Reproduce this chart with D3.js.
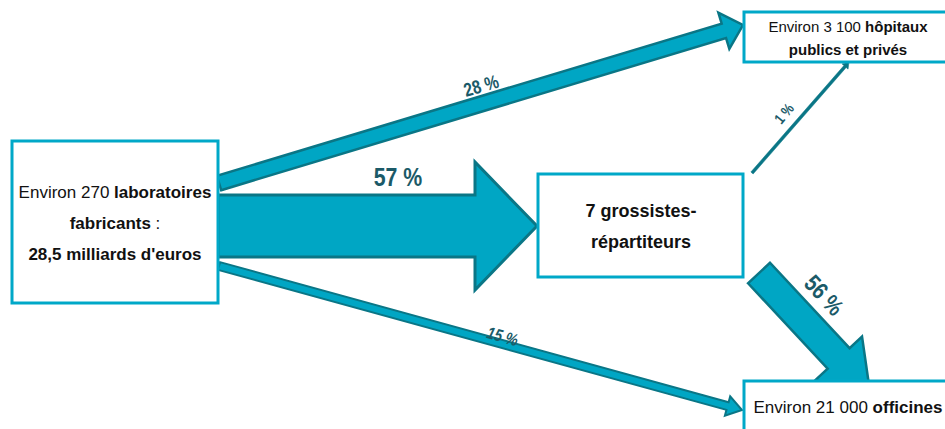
<!DOCTYPE html>
<html>
<head>
<meta charset="utf-8">
<script src="https://cdn.jsdelivr.net/npm/d3@7"></script>
<style>
  body { margin: 0; background: #fff; }
  svg { display: block; font-family: "Liberation Sans", Arial, sans-serif; }
</style>
</head>
<body>
<svg width="945" height="429"></svg>
<script>
// nodes of the flow
const nodeIds = ["labo", "hopitaux", "grossistes", "officines"];
const nodeLines = [
  [[["Environ 270 ", false], ["laboratoires", true]], [["fabricants", true], [" :", false]], [["28,5 milliards d'euros", true]]],
  [[["Environ 3 100 ", false], ["hôpitaux", true]], [["publics et privés", true]]],
  [[["7 grossistes-", true]], [["répartiteurs", true]]],
  [[["Environ 21 000 ", false], ["officines", true]]]
];

// flows (share of sales)
const flowFrom = ["labo", "labo", "labo", "grossistes", "grossistes"];
const flowTo = ["grossistes", "hopitaux", "officines", "hopitaux", "officines"];
const flowPct = [57, 28, 15, 1, 56];

// layout (positions only)
const boxes = {
  labo:       { x: 12,  y: 141, w: 206, h: 162, fs: 17, lines: [198, 229, 260], cx: 115 },
  hopitaux:   { x: 744, y: 12,  w: 210, h: 50,  fs: 15, lines: [32, 55], cx: 848 },
  grossistes: { x: 538, y: 174, w: 205, h: 103, fs: 18, lines: [217, 248], cx: 641 },
  officines:  { x: 744, y: 381, w: 210, h: 60,  fs: 17, lines: [413], cx: 848 }
};
const arrows = [
  { t: [218, 226], h: [537, 226], sw: 62, hw: 128, hl: 62, sk: 3 },
  { t: [219, 183], h: [743, 25],  sw: 15, hw: 38,  hl: 20, sk: 2.5 },
  { t: [219, 266], h: [742, 410], sw: 8,  hw: 20,  hl: 15, sk: 2 },
  { t: [752, 173], h: [849, 62],  sw: 3,  hw: 8,   hl: 6,  sk: 0.5 },
  { t: [759, 273], h: [870, 392], sw: 30, hw: 64,  hl: 46, sk: 2.5 }
];
const labels = [
  { x: 398, y: 186, fs: 26, rot: 0,     italic: false },
  { x: 483, y: 92,  fs: 19, rot: -16.6, italic: false },
  { x: 501, y: 342, fs: 17, rot: 15.4,  italic: true },
  { x: 788, y: 117, fs: 15, rot: -50,   italic: false },
  { x: 818, y: 301, fs: 24, rot: 47,    italic: false }
];

const fillC = "#00a6c4", edgeC = "#0a7686", boxC = "#00a8c8", labC = "#1b5a68";

const svg = d3.select("svg");
const line = d3.line();

function arrowPts(a) {
  const [x1, y1] = a.t, [x2, y2] = a.h;
  const L = Math.hypot(x2 - x1, y2 - y1);
  const ux = (x2 - x1) / L, uy = (y2 - y1) / L;
  const nx = -uy, ny = ux;
  const bx = x2 - ux * a.hl, by = y2 - uy * a.hl;
  const s = a.sw / 2, h = a.hw / 2;
  return [
    [x1 + nx * s, y1 + ny * s], [bx + nx * s, by + ny * s], [bx + nx * h, by + ny * h],
    [x2, y2],
    [bx - nx * h, by - ny * h], [bx - nx * s, by - ny * s], [x1 - nx * s, y1 - ny * s]
  ];
}

// arrows
svg.selectAll("path.flow")
  .data(flowPct)
  .enter().append("path")
  .attr("class", "flow")
  .attr("d", (d, i) => line(arrowPts(arrows[i])) + "Z")
  .attr("fill", (d, i) => i === 3 ? edgeC : fillC)
  .attr("stroke", edgeC)
  .attr("stroke-width", (d, i) => arrows[i].sk)
  .attr("stroke-linejoin", "miter");

// boxes drawn over arrow ends
const node = svg.selectAll("g.node")
  .data(nodeIds)
  .enter().append("g")
  .attr("class", "node");

node.append("rect")
  .attr("x", d => boxes[d].x)
  .attr("y", d => boxes[d].y)
  .attr("width", d => boxes[d].w)
  .attr("height", d => boxes[d].h)
  .attr("fill", "#fff")
  .attr("stroke", boxC)
  .attr("stroke-width", 3);

node.each(function (d, i) {
  const b = boxes[d];
  const g = d3.select(this);
  nodeLines[i].forEach((parts, j) => {
    const t = g.append("text")
      .attr("x", b.cx)
      .attr("y", b.lines[j])
      .attr("text-anchor", "middle")
      .attr("font-size", b.fs)
      .attr("fill", "#111");
    parts.forEach(p => t.append("tspan").text(p[0]).attr("font-weight", p[1] ? "bold" : "normal"));
  });
});

// percentage labels
svg.selectAll("text.pct")
  .data(flowPct)
  .enter().append("text")
  .attr("class", "pct")
  .attr("transform", (d, i) => `translate(${labels[i].x},${labels[i].y}) rotate(${labels[i].rot}) scale(0.82,1)`)
  .attr("text-anchor", "middle")
  .attr("font-size", (d, i) => labels[i].fs)
  .attr("font-weight", "bold")
  .attr("font-style", (d, i) => labels[i].italic ? "italic" : "normal")
  .attr("fill", labC)
  .text(d => d + " %");
</script>
</body>
</html>
